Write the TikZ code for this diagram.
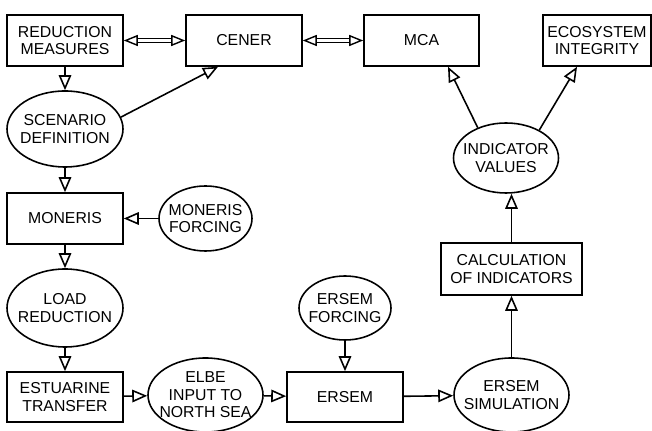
\documentclass[tikz,border=0pt]{standalone}
\usepackage{fontspec}
\setmainfont{Liberation Sans}
\usetikzlibrary{arrows.meta,shapes.geometric}
\tikzset{
  box/.style={draw, rectangle, line width=0.9pt, align=center, inner sep=0pt,
    minimum width=23.2mm, minimum height=10.2mm},
  ell/.style={draw, ellipse, line width=0.9pt, align=center, inner sep=-2mm},
  arr/.style={line width=0.9pt, -{Triangle[open,length=3mm,width=2.5mm]}},
  dbl/.style={double, double distance=0.55mm, line width=0.8pt,
    {Triangle[open,length=2.8mm,width=2.2mm]}-{Triangle[open,length=2.8mm,width=2.2mm]}},
}

\begin{document}
\begin{tikzpicture}[x=0.2mm, y=0.2mm, font=\fontsize{9}{10}\selectfont]
        \useasboundingbox (0,0) rectangle (652,431);
        % Define the positions of the blocks
        \coordinate (R) at (65,390.5);
        \coordinate (C) at (244,390.5);
        \coordinate (M) at (421.5,390.5);
        \coordinate (E) at (597,390.5);
        \coordinate (S) at (65,302);
        \coordinate (MO) at (65,212.5);
        \coordinate (MF) at (205.5,212.5);
        \coordinate (L) at (65,123);
        \coordinate (T) at (65,34);
        \coordinate (I) at (205.5,36);
        \coordinate (ER) at (345,34);
        \coordinate (EF) at (345,123);
        \coordinate (ES) at (511.5,36);
        \coordinate (CA) at (511.5,162);
        \coordinate (V) at (506,273);
        % Boxes
        \node[box] (red) at (R) {REDUCTION\\MEASURES};
        \node[box] (cener) at (C) {CENER};
        \node[box, minimum width=23mm] (mca) at (M) {MCA};
        \node[box, minimum width=21.6mm] (eco) at (E) {ECOSYSTEM\\INTEGRITY};
        \node[box] (moneris) at (MO) {MONERIS};
        \node[box, minimum height=10mm] (estuar) at (T) {ESTUARINE\\TRANSFER};
        \node[box, minimum height=10mm] (ersem) at (ER) {ERSEM};
        \node[box, minimum width=28.2mm, minimum height=10.4mm] (calc) at (CA) {CALCULATION\\OF INDICATORS};
        % Ellipses
        \node[ell, minimum width=23.2mm, minimum height=15.2mm] (scen) at (S) {SCENARIO\\DEFINITION};
        \node[ell, minimum width=18.6mm, minimum height=13mm] (monf) at (MF) {MONERIS\\FORCING};
        \node[ell, minimum width=23.2mm, minimum height=15.6mm] (load) at (L) {LOAD\\REDUCTION};
        \node[ell, minimum width=23mm, minimum height=14.8mm] (elbe) at (I) {ELBE\\INPUT TO\\NORTH SEA};
        \node[ell, minimum width=18.4mm, minimum height=12.8mm] (ersf) at (EF) {ERSEM\\FORCING};
        \node[ell, minimum width=23mm, minimum height=14.8mm] (erss) at (ES) {ERSEM\\SIMULATION};
        \node[ell, minimum width=21mm, minimum height=14mm] (ind) at (V) {INDICATOR\\VALUES};
        % Connections
        \draw[dbl] (red) -- (cener);
        \draw[dbl] (cener) -- (mca);
        \draw[arr] (red) -- (scen);
        \draw[arr] (scen.12) -- ([xshift=-5.2mm]cener.south);
        \draw[arr] (scen) -- (moneris);
        \draw[arr] (monf) -- (moneris);
        \draw[arr] (moneris) -- (load);
        \draw[arr] (load) -- (estuar);
        \draw[arr] (estuar) -- (elbe);
        \draw[arr] (elbe) -- (ersem);
        \draw[arr] (ersf) -- (ersem);
        \draw[arr] (ersem) -- (erss);
        \draw[arr] (erss) -- (calc);
        \draw[arr] (calc.north) -- (calc.north |- ind.south);
        \draw[arr] (ind.133) -- ([xshift=5.3mm]mca.south);
        \draw[arr] (ind.40) -- ([xshift=-4mm]eco.south);
    \end{tikzpicture}
\end{document}
